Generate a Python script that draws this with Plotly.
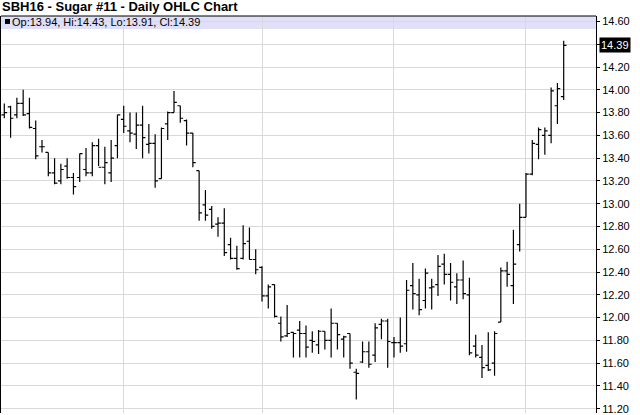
import plotly.graph_objects as go

june = [4, 5, 8, 9, 10, 11, 12, 15, 16, 17, 18, 19, 22, 23, 24, 25, 26, 29, 30]
july = [1, 2, 6, 7, 8, 9, 10, 13, 14, 15, 16, 17, 20, 21, 22, 23, 24, 27, 28, 29, 30, 31]
august = [3, 4, 5, 6, 7, 10, 11, 12, 13, 14, 17, 18, 19, 20, 21, 24, 25, 26, 27, 28, 31]
september = [1, 2, 3, 4, 8, 9, 10, 11, 14, 15, 16, 17, 18, 21, 22, 23, 24, 25, 28, 29, 30]
october = [1, 2, 5, 6, 7, 8, 9]

dates = ([f"2015-06-{d:02d}" for d in june] + [f"2015-07-{d:02d}" for d in july]
         + [f"2015-08-{d:02d}" for d in august] + [f"2015-09-{d:02d}" for d in september]
         + [f"2015-10-{d:02d}" for d in october])

opens = [13.78, 13.85, 13.78, 13.88, 13.79, 13.66, 13.50, 13.45, 13.27, 13.20,
         13.33, 13.23, 13.23, 13.30, 13.27, 13.51, 13.32, 13.27, 13.51, 13.74,
         13.64, 13.61, 13.69, 13.52, 13.53, 13.22, 13.70, 13.80, 13.86, 13.73,
         13.62, 13.29, 12.99, 12.95, 12.82, 12.83, 12.64, 12.52, 12.52, 12.67,
         12.51, 12.44, 12.19, 12.29, 11.95, 11.84, 11.87, 11.89, 11.86, 11.80,
         11.76, 11.88, 11.80, 11.95, 11.81, 11.86, 11.52, 11.61, 11.70, 11.67,
         11.94, 11.97, 11.78, 11.78, 11.77, 12.28, 12.20, 12.15, 12.26, 12.29,
         12.47, 12.38, 12.27, 12.33, 12.20, 11.75, 11.65, 11.58, 11.60, 11.96,
         12.41, 12.28, 12.64, 12.88, 13.26, 13.52, 13.60, 13.60, 13.86, 13.94]
highs = [13.88, 13.86, 13.93, 14.00, 13.93, 13.73, 13.56, 13.45, 13.40, 13.35,
         13.40, 13.27, 13.44, 13.49, 13.54, 13.57, 13.50, 13.56, 13.78, 13.86,
         13.80, 13.80, 13.86, 13.70, 13.61, 13.67, 13.81, 13.99, 13.86, 13.74,
         13.62, 13.29, 13.12, 12.98, 12.88, 12.96, 12.70, 12.63, 12.81, 12.79,
         12.60, 12.45, 12.29, 12.29, 12.01, 12.11, 11.87, 11.97, 11.93, 11.88,
         11.89, 11.88, 12.08, 11.95, 11.84, 11.86, 11.55, 11.79, 11.79, 11.95,
         11.99, 11.99, 11.83, 12.00, 12.33, 12.48, 12.34, 12.43, 12.34, 12.55,
         12.56, 12.48, 12.39, 12.50, 12.35, 11.85, 11.76, 11.87, 11.88, 12.44,
         12.49, 12.77, 13.00, 13.27, 13.56, 13.67, 13.67, 14.02, 14.06, 14.43]
lows = [13.75, 13.58, 13.75, 13.77, 13.66, 13.39, 13.45, 13.24, 13.17, 13.17,
        13.22, 13.08, 13.19, 13.24, 13.24, 13.33, 13.17, 13.19, 13.40, 13.62,
        13.54, 13.48, 13.40, 13.44, 13.14, 13.22, 13.56, 13.80, 13.71, 13.51,
        13.32, 12.85, 12.85, 12.78, 12.71, 12.54, 12.51, 12.42, 12.51, 12.51,
        12.38, 12.14, 12.08, 12.00, 11.79, 11.83, 11.65, 11.65, 11.65, 11.69,
        11.68, 11.72, 11.65, 11.72, 11.65, 11.55, 11.28, 11.60, 11.56, 11.61,
        11.81, 11.56, 11.65, 11.69, 11.70, 12.07, 12.02, 12.08, 12.07, 12.19,
        12.29, 12.15, 12.12, 12.16, 11.67, 11.65, 11.47, 11.53, 11.49, 11.96,
        12.27, 12.12, 12.58, 12.88, 13.25, 13.39, 13.43, 13.53, 13.70, 13.91]
closes = [13.80, 13.75, 13.88, 13.78, 13.67, 13.42, 13.50, 13.27, 13.18, 13.30,
          13.23, 13.15, 13.44, 13.27, 13.51, 13.32, 13.36, 13.40, 13.78, 13.68,
          13.62, 13.69, 13.58, 13.53, 13.20, 13.66, 13.80, 13.89, 13.75, 13.62,
          13.36, 12.92, 12.90, 12.80, 12.83, 12.57, 12.52, 12.43, 12.65, 12.51,
          12.42, 12.19, 12.27, 12.01, 11.83, 11.86, 11.86, 11.86, 11.74, 11.79,
          11.88, 11.80, 11.95, 11.85, 11.83, 11.60, 11.51, 11.70, 11.59, 11.91,
          11.97, 11.79, 11.78, 11.75, 12.24, 12.21, 12.07, 12.39, 12.27, 12.45,
          12.38, 12.31, 12.33, 12.21, 11.69, 11.67, 11.56, 11.54, 11.86, 12.41,
          12.38, 12.47, 12.88, 13.26, 13.53, 13.65, 13.64, 13.99, 14.01, 14.39]

month_starts = ["2015-07-01", "2015-08-03", "2015-09-01", "2015-10-01"]
y_ticks = [11.2, 11.4, 11.6, 11.8, 12.0, 12.2, 12.4, 12.6, 12.8, 13.0,
           13.2, 13.4, 13.6, 13.8, 14.0, 14.2, 14.4, 14.6]
y_tick_text = ["11.20", "11.40", "11.60", "11.80", "12.00", "12.20", "12.40", "12.60",
               "12.80", "13.00", "13.20", "13.40", "13.60", "13.80", "14.00", "14.20",
               "", "14.60"]

title_text = "SBH16 - Sugar #11 - Daily OHLC Chart"
last = len(closes) - 1
legend_text = (f"Op:{opens[last]:.2f}, Hi:{highs[last]:.2f}, "
               f"Lo:{lows[last]:.2f}, Cl:{closes[last]:.2f}")

FONT = "Liberation Sans, Arial, sans-serif"
GRID = "#d9d9d9"

fig = go.Figure()
fig.add_trace(go.Ohlc(
    x=dates, open=opens, high=highs, low=lows, close=closes,
    increasing=dict(line=dict(color="black", width=1.2)),
    decreasing=dict(line=dict(color="black", width=1.2)),
    tickwidth=0.45, hoverinfo="skip", showlegend=False,
))

fig.update_layout(
    width=640, height=415,
    margin=dict(l=1, r=44, t=16, b=0),
    paper_bgcolor="white", plot_bgcolor="white",
    showlegend=False,
    font=dict(family=FONT, size=11, color="black"),
    xaxis=dict(
        type="category", range=[-0.525, 94.14],
        rangeslider=dict(visible=False),
        tickmode="array", tickvals=month_starts, showticklabels=False,
        ticks="", showgrid=True, gridcolor=GRID, gridwidth=1,
        showline=False, zeroline=False,
    ),
    yaxis=dict(
        side="right", range=[11.162, 14.648],
        tickmode="array", tickvals=y_ticks, ticktext=y_tick_text,
        ticks="outside", ticklen=3, tickcolor="black", tickwidth=1,
        tickfont=dict(family=FONT, size=11, color="black"),
        ticklabeloverflow="allow",
        showgrid=True, gridcolor=GRID, gridwidth=1,
        showline=True, linecolor="black", linewidth=1, mirror=True,
        zeroline=False,
    ),
    shapes=[
        dict(type="rect", xref="paper", yref="paper", x0=0, x1=1, y0=0.9674, y1=1,
             fillcolor="#e0e0f8", line=dict(width=0), layer="between"),
        dict(type="line", xref="paper", yref="paper", x0=0, x1=1, y0=1, y1=1,
             line=dict(color="black", width=1), layer="above"),
        dict(type="rect", xref="paper", yref="paper", x0=0.0067, x1=0.0151,
             y0=0.98, y1=0.9925, fillcolor="black", line=dict(width=0), layer="above"),
    ],
    annotations=[
        dict(text=f"<b>{title_text}</b>", xref="paper", yref="paper", x=0, y=1,
             xanchor="left", yanchor="bottom", xshift=-1, yshift=0, showarrow=False,
             font=dict(family=FONT, size=13, color="black")),
        dict(text=legend_text, xref="paper", yref="paper", x=0.0169, y=0.9837,
             xanchor="left", yanchor="middle", xshift=-1, showarrow=False,
             font=dict(family=FONT, size=11, color="black")),
        dict(text=f"{closes[last]:.2f}", xref="paper", yref="y", x=1, y=closes[last],
             xanchor="left", yanchor="middle", xshift=3, showarrow=False,
             bgcolor="black", borderpad=1,
             font=dict(family=FONT, size=11, color="white")),
    ],
)

fig.write_html(
    "out.html",
    config={"displayModeBar": False},
    post_script="document.body.style.margin='0';document.body.style.overflow='hidden';",
)
